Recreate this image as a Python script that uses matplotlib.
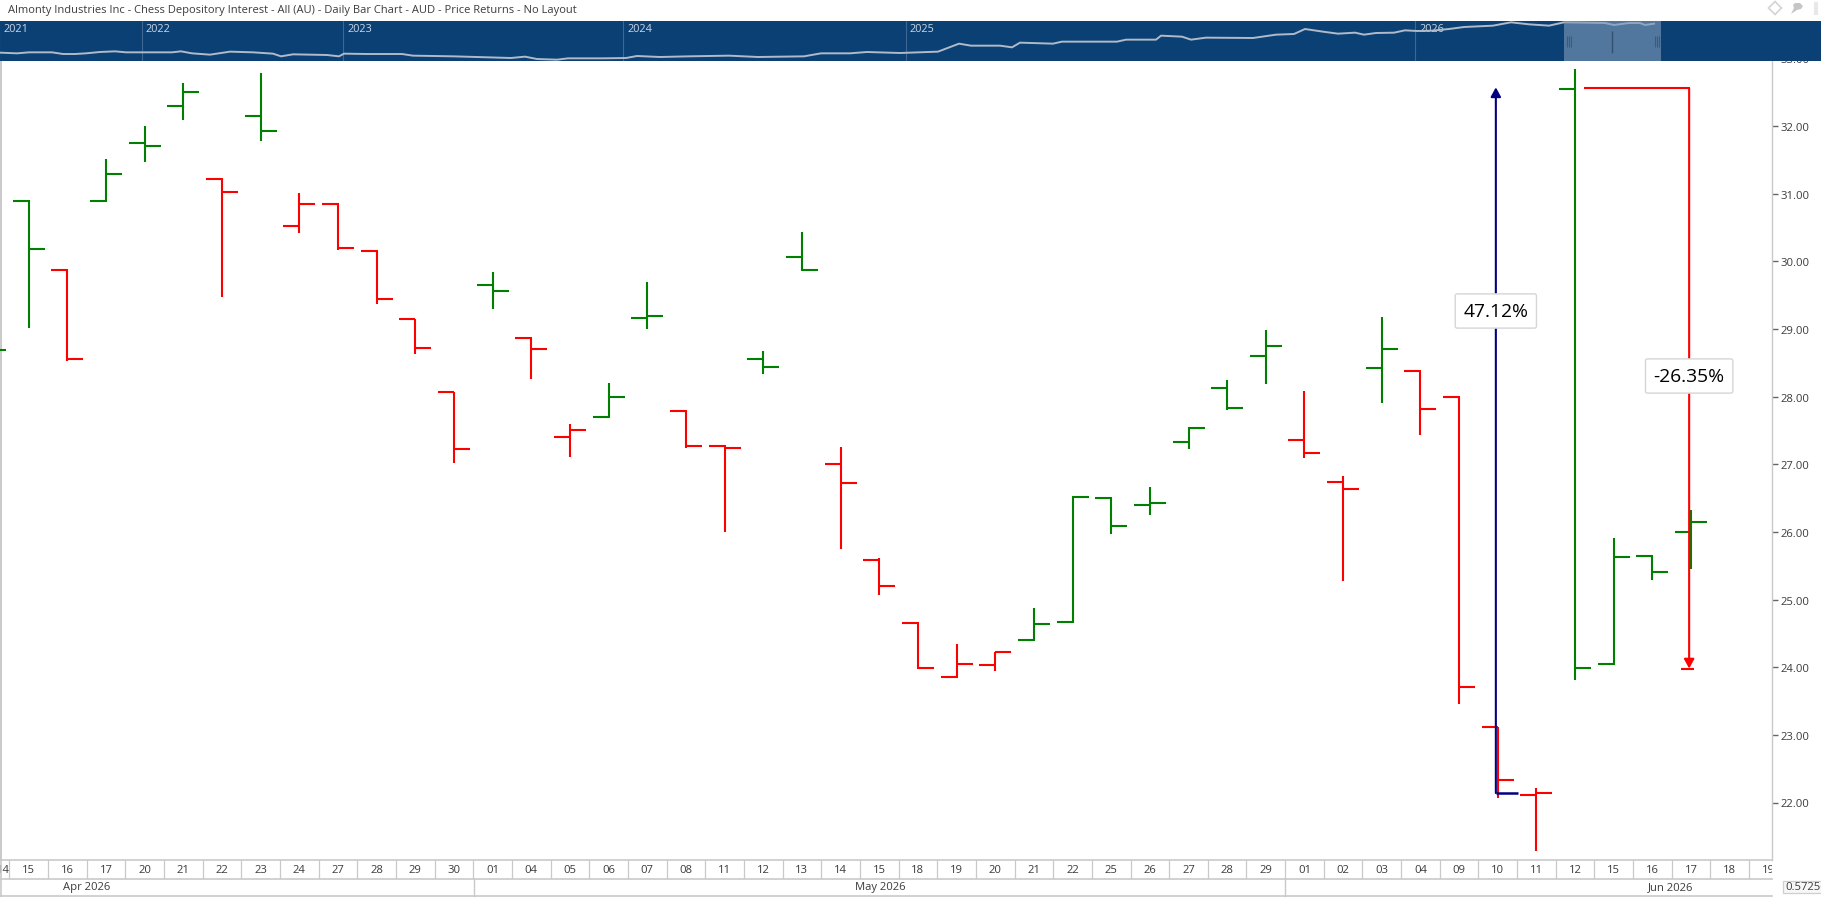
import matplotlib
matplotlib.use("Agg")
import matplotlib.pyplot as plt
from matplotlib.collections import LineCollection
from matplotlib.patches import Rectangle, Polygon

plt.rcParams['font.family'] = ['Open Sans', 'DejaVu Sans']

W, H = 1821, 903

# Daily sessions, first entry is 14 Apr which sits mostly beyond the left edge
day_labels = ['14', '15', '16', '17', '20', '21', '22', '23', '24', '27', '28', '29', '30',
              '01', '04', '05', '06', '07', '08', '11', '12', '13', '14', '15',
              '18', '19', '20', '21', '22', '25', '26', '27', '28', '29',
              '01', '02', '03', '04', '09', '10', '11', '12', '15', '16', '17', '18', '19']

opens = [28.20, 30.89, 29.87, 30.89, 31.75, 32.29, 31.22, 32.15, 30.52, 30.85, 30.15, 29.14, 28.06,
         29.65, 28.87, 27.40, 27.70, 29.16, 27.79, 27.27, 28.55, 30.06, 27.00, 25.58,
         24.66, 23.85, 24.03, 24.40, 24.67, 26.50, 26.40, 27.33, 28.13, 28.60,
         27.36, 26.74, 28.42, 28.38, 28.00, 23.11, 22.11, 32.55, 24.04, 25.65, 26.00]
highs = [28.90, 30.90, 29.88, 31.51, 32.00, 32.63, 31.23, 32.78, 31.01, 30.86, 30.16, 29.15, 28.07,
         29.84, 28.88, 27.59, 28.20, 29.69, 27.80, 27.28, 28.67, 30.43, 27.25, 25.61,
         24.67, 24.34, 24.23, 24.87, 26.53, 26.51, 26.66, 27.55, 28.24, 28.98,
         28.08, 26.83, 29.17, 28.39, 28.01, 23.12, 22.21, 32.84, 25.91, 25.66, 26.32]
lows = [28.00, 29.02, 28.53, 30.88, 31.47, 32.08, 29.47, 31.78, 30.41, 30.16, 29.37, 28.63, 27.02,
        29.30, 28.26, 27.10, 27.69, 29.00, 27.24, 26.00, 28.33, 29.86, 25.75, 25.06,
        23.97, 23.84, 23.95, 24.39, 24.66, 25.97, 26.25, 27.22, 27.80, 28.19,
        27.09, 25.27, 27.90, 27.43, 23.45, 22.07, 21.28, 23.81, 24.03, 25.29, 25.45]
closes = [28.69, 30.18, 28.55, 31.29, 31.70, 32.50, 31.02, 31.92, 30.85, 30.19, 29.44, 28.72, 27.23,
          29.56, 28.70, 27.51, 27.99, 29.19, 27.27, 27.24, 28.44, 29.87, 26.72, 25.20,
          23.99, 24.05, 24.22, 24.64, 26.52, 26.09, 26.43, 27.54, 27.83, 28.75,
          27.17, 26.63, 28.70, 27.82, 23.71, 22.33, 22.14, 23.99, 25.63, 25.41, 26.15]
bar_up = [1, 1, 0, 1, 1, 1, 0, 1, 0, 0, 0, 0, 0,
          1, 0, 0, 1, 1, 0, 0, 1, 1, 0, 0,
          0, 0, 0, 1, 1, 1, 1, 1, 1, 1,
          0, 0, 1, 0, 0, 0, 0, 1, 1, 1, 1]

y_ticks = [22, 23, 24, 25, 26, 27, 28, 29, 30, 31, 32, 33]

# Two measuring rulers: the rise off the 10 Jun close, the fall from the 12 Jun open
rise_start, rise_end, rise_label = 22.14, 32.57, '47.12%'
fall_start, fall_end, fall_label = 32.56, 23.98, '-26.35%'

# Long-range overview trace
nav_x = [0, 17, 29, 52, 63, 75, 86, 100, 115, 126, 172, 181, 192, 210, 230, 253, 273, 281, 293,
         327, 339, 344, 367, 402, 413, 453, 488, 511, 525, 537, 557, 568, 603, 626, 637, 660,
         689, 729, 758, 804, 821, 850, 867, 900,
         938, 959, 971, 1000, 1012, 1020, 1053, 1062, 1117, 1126, 1156, 1161, 1182, 1191, 1206,
         1253, 1276, 1294, 1305, 1323, 1338, 1355, 1364, 1376, 1394, 1405, 1417, 1432, 1449,
         1464, 1493, 1511, 1529, 1549, 1564, 1605, 1614, 1629, 1640, 1645, 1654]
nav_close = [5.84, 5.37, 6.07, 6.07, 4.90, 4.90, 5.37, 6.30, 6.77, 6.07, 6.07, 6.77, 5.37, 4.44, 6.54, 6.07,
             5.14, 3.27, 4.67, 4.20, 3.27, 5.14, 4.90, 4.90, 3.74, 3.27, 2.57, 2.10, 3.04, 1.40, 0.93,
             1.87, 1.87, 2.10, 3.50, 2.80, 3.27, 3.74, 2.80, 3.27, 5.37, 5.37, 6.30, 5.60,
             6.54, 12.14, 10.73, 10.73, 9.57, 12.84, 12.14, 13.54, 13.54, 14.94, 14.94, 17.73, 17.03,
             14.94, 16.34, 16.10, 18.44, 18.90, 22.40, 20.53, 19.13, 19.83, 18.44, 19.60, 19.83,
             21.47, 21.00, 21.23, 22.40, 23.80, 24.74, 27.07, 25.67, 24.74, 27.07, 26.60, 25.20,
             26.60, 26.60, 25.20, 26.13]
nav_years = ['2021', '2022', '2023', '2024', '2025', '2026']
nav_year_pos = [-1, 142, 343, 623, 906, 1415]

GREEN, RED, NAVY = '#008000', '#ff0000', '#000080'
GRID = '#c9c9c9'
TEXT = '#3c3c3c'
NAV_BG = '#0b4074'

PLOT_RIGHT = 1772
PLOT_TOP, PLOT_BOTTOM = 50, 861   # the top of the panel runs underneath the overview strip
ROW_MID, ROW_BOTTOM = 880, 897
X0, DX = 28.7, 38.66          # pixel of session 15 Apr, pixels per session
Y22, DY = 803.5, 67.66        # pixel of price 22.00, pixels per dollar
AXIS_FS = 8.1


def axes_px(fig, left, top, right, bottom, **kw):
    return fig.add_axes([left / W, 1 - bottom / H, (right - left) / W, (bottom - top) / H], **kw)


fig = plt.figure(figsize=(W / 100, H / 100), dpi=100, facecolor='white')

# Main price panel
ax = axes_px(fig, 0, PLOT_TOP, PLOT_RIGHT, PLOT_BOTTOM)
ax.set_zorder(2)
for side in ('top', 'bottom'):
    ax.spines[side].set_visible(False)
ax.spines['left'].set_color(GRID)
ax.spines['left'].set_position(('outward', -1))
ax.spines['right'].set_color(GRID)
ax.spines['left'].set_linewidth(1.4)
ax.spines['right'].set_linewidth(1.0)
ax.set_xticks([])
ax.yaxis.tick_right()
ax.set_yticks(y_ticks)
ax.set_yticklabels([f'{v:.2f}' for v in y_ticks], fontsize=AXIS_FS, color=TEXT)
ax.tick_params(axis='y', length=4.3, width=1.0, color='#666666', pad=2.0)
# limits come after the ticks, which would otherwise widen the view
ax.set_xlim(-X0 / DX, (PLOT_RIGHT - X0) / DX)
ax.set_ylim(22 + (Y22 - PLOT_BOTTOM) / DY, 22 + (Y22 - PLOT_TOP) / DY)

TICK = 16 / DX
segments, seg_colors = [], []
for i, (o, h, l, c, up) in enumerate(zip(opens, highs, lows, closes, bar_up)):
    x = i - 1
    col = GREEN if up else RED
    segments += [[(x, l), (x, h)], [(x - TICK, o), (x, o)], [(x, c), (x + TICK, c)]]
    seg_colors += [col, col, col]
ax.add_collection(LineCollection(segments, colors=seg_colors, linewidths=1.5, capstyle='butt', zorder=3))

# Rulers
rise_x = 38 - 0.05
ax.annotate('', xy=(rise_x, rise_end), xytext=(rise_x, rise_start), zorder=4,
            arrowprops=dict(arrowstyle='-|>,head_length=0.55,head_width=0.3', color=NAVY, lw=1.5,
                            shrinkA=0, shrinkB=0, mutation_scale=10))
ax.plot([rise_x, rise_x + 22 / DX], [rise_start, rise_start], color=NAVY, lw=1.8,
        solid_capstyle='butt', zorder=4)

fall_x = 42.95
ax.plot([40.23, fall_x + 0.02], [fall_start, fall_start], color=RED, lw=1.5,
        solid_capstyle='butt', zorder=4)
ax.annotate('', xy=(fall_x, fall_end), xytext=(fall_x, fall_start), zorder=4,
            arrowprops=dict(arrowstyle='-|>,head_length=0.55,head_width=0.3', color=RED, lw=1.5,
                            shrinkA=0, shrinkB=0, mutation_scale=10))
ax.plot([fall_x - 0.2, fall_x + 0.13], [fall_end, fall_end], color=RED, lw=1.5,
        solid_capstyle='butt', zorder=4)

box = dict(boxstyle='round,pad=0.42,rounding_size=0.1', facecolor='white', edgecolor='#d6d6d6', linewidth=1.0)
ax.text(rise_x, 22 + (Y22 - 312) / DY, rise_label, fontsize=13.9, color='black', ha='center', va='center',
        bbox=box, zorder=5)
ax.text(fall_x, 22 + (Y22 - 377) / DY, fall_label, fontsize=13.9, color='black', ha='center', va='center',
        bbox=box, zorder=5)

# Overview strip
nav = axes_px(fig, 0, 22, W, 62)
nav.set_zorder(3)
nav.set_xlim(0, W)
nav.set_ylim(0, 28)
nav.axis('off')
nav.add_patch(Rectangle((0, 0), W, 28, facecolor=NAV_BG, edgecolor='none', zorder=0))
for pos, year in zip(nav_year_pos, nav_years):
    nav.axvline(pos, color='#3d6792', lw=0.8, zorder=1)
    nav.text(pos + 4, 28 * (62 - 29.5) / 40, year, color='#cdd6e0', fontsize=7.8, ha='left', va='center', zorder=2)
nav.plot(nav_x, nav_close, color='#b0bac8', lw=1.4, zorder=3)
nav.axvspan(1564, 1661, color='#7f9ab8', alpha=0.62, lw=0, zorder=4)
for grip in (1566.5, 1568.5, 1570.5, 1654.5, 1656.5, 1658.5):
    nav.vlines(grip, 28 * 14 / 40, 28 * 25 / 40, color='#46586e', lw=0.8, zorder=5)
nav.vlines(1612, 28 * 8 / 40, 28 * 30 / 40, color='#33506f', lw=1.0, zorder=5)

# Session row
dates = axes_px(fig, 0, PLOT_BOTTOM, PLOT_RIGHT, ROW_MID)
dates.set_xlim(ax.get_xlim())
dates.set_ylim(0, 1)
dates.axis('off')
for i, lab in enumerate(day_labels):
    x = i - 1
    dates.axvline(x + 0.5, color=GRID, lw=0.9, clip_on=True)
    text_x = x if i else (3 - X0) / DX
    dates.text(text_x, 0.5, lab, fontsize=AXIS_FS, color=TEXT, ha='center', va='center', clip_on=True)

# Chrome drawn in figure pixels: month row, title, icons and scale readout
px = fig.add_axes([0, 0, 1, 1])
px.set_xlim(0, W)
px.set_ylim(H, 0)
px.axis('off')
px.set_zorder(4)
px.patch.set_alpha(0)
for y in (PLOT_BOTTOM, ROW_MID, ROW_BOTTOM):
    px.plot([0, PLOT_RIGHT], [y, y], color=GRID, lw=1.2)
px.plot([1, 1], [PLOT_BOTTOM, ROW_BOTTOM], color=GRID, lw=1.2)
for x in (473.6, 1285.4):
    px.plot([x, x], [ROW_MID, ROW_BOTTOM], color=GRID, lw=1.0)
for x, label in zip((87, 880, 1671), ('Apr 2026', 'May 2026', 'Jun 2026')):
    px.text(x, 888, label, fontsize=AXIS_FS, color=TEXT, ha='center', va='center')

px.text(8, 10, 'Almonty Industries Inc - Chess Depository Interest - All (AU) - Daily Bar Chart - AUD - Price Returns - No Layout',
        fontsize=8.05, color=TEXT, ha='left', va='center')

px.add_patch(Rectangle((1783, 882), 60, 12, facecolor='#f7f7f7', edgecolor='#cfcfcf', lw=0.9, clip_on=True))
px.text(1785, 888, '0.57256', fontsize=AXIS_FS, color=TEXT, ha='left', va='center')

px.add_patch(Polygon([(1775, 2.5), (1781.5, 9), (1775, 15.5), (1768.5, 9)], closed=True,
                     facecolor='none', edgecolor='#d4d4d4', lw=1.2))
px.add_patch(Polygon([(1795, 4), (1800, 4), (1803, 7), (1801, 10), (1797, 11), (1791, 15),
                      (1794, 9), (1793, 6)], closed=True, facecolor='#c6c6c6', edgecolor='none'))
px.plot([1816, 1816], [5, 14], color='#e8e8e8', lw=3)

fig.savefig('out.png', dpi=100, facecolor='white')
